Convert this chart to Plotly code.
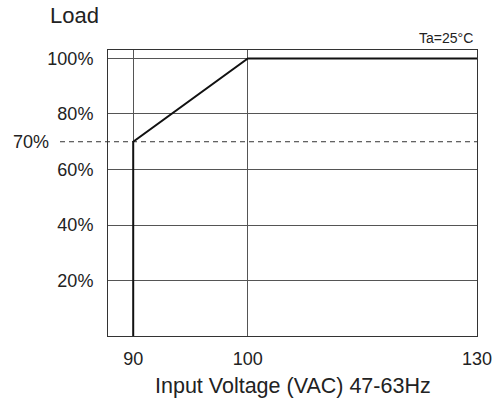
import plotly.graph_objects as go

# Data
voltage = [90, 90, 100, 130]          # VAC
load_pct = [0, 70, 100, 100]          # %
x_ticks = [90, 100, 130]
y_ticks = [20, 40, 60, 80, 100]
y_tick_labels = ["20%", "40%", "60%", "80%", "100%"]
derate_level = 70

def disp(v):
    # compressed scale above 100 VAC, as in the original drawing
    return v if v <= 100 else 100 + (v - 100) * 20 / 30

FONT = "Liberation Sans, Arial, sans-serif"
W, H = 495, 408
ML, MR, MT, MB = 108, 18, 50, 72
PW, PH = W - ML - MR, H - MT - MB

fig = go.Figure()
fig.add_trace(go.Scatter(
    x=[disp(v) for v in voltage], y=load_pct, mode="lines",
    line=dict(color="#111111", width=2), cliponaxis=False, hoverinfo="skip",
    showlegend=False))

# dashed 70% line extending to the left label
fig.add_shape(type="line", xref="paper", yref="y",
              x0=(60 - ML) / PW, x1=1, y0=derate_level, y1=derate_level,
              line=dict(color="#333333", width=1, dash="5px,4px"), layer="below")

def px_to_paper_y(py):
    return (H - MB - py) / PH

def px_to_paper_x(px):
    return (px - ML) / PW

fig.add_annotation(text="70%", xref="paper", yref="y", x=px_to_paper_x(51),
                   y=derate_level, xanchor="right", yanchor="middle",
                   showarrow=False, font=dict(family=FONT, size=18, color="#222"))
fig.add_annotation(text="Load", xref="paper", yref="paper", x=px_to_paper_x(74),
                   y=px_to_paper_y(16), xanchor="center", yanchor="middle",
                   showarrow=False, font=dict(family=FONT, size=22, color="#222"))
fig.add_annotation(text="Ta=25°C", xref="paper", yref="paper", x=px_to_paper_x(475),
                   y=px_to_paper_y(38), xanchor="right", yanchor="middle",
                   showarrow=False, font=dict(family=FONT, size=14, color="#222"))
fig.add_annotation(text="Input Voltage (VAC) 47-63Hz", xref="paper", yref="paper",
                   x=px_to_paper_x(293), y=px_to_paper_y(386), xanchor="center",
                   yanchor="middle", showarrow=False,
                   font=dict(family=FONT, size=21.5, color="#222"))

fig.update_layout(
    width=W, height=H, margin=dict(l=ML, r=MR, t=MT, b=MB, autoexpand=False),
    paper_bgcolor="white", plot_bgcolor="white",
    font=dict(family=FONT, size=18, color="#222"),
    showlegend=False,
)
fig.update_xaxes(
    range=[87.8, 120], tickvals=[disp(v) for v in x_ticks],
    ticktext=[str(v) for v in x_ticks], showgrid=True, gridcolor="#555555",
    gridwidth=1, zeroline=False, showline=True, linecolor="#333333",
    linewidth=1, mirror=True, ticks="", ticklabelstandoff=6, automargin=False,
    tickfont=dict(family=FONT, size=18, color="#222"))
fig.update_yaxes(
    range=[0, 103.06], tickvals=y_ticks, ticktext=y_tick_labels,
    showgrid=True, gridcolor="#555555", gridwidth=1, zeroline=False,
    showline=True, linecolor="#333333", linewidth=1, mirror=True, ticks="",
    ticklabelstandoff=10, automargin=False,
    tickfont=dict(family=FONT, size=18, color="#222"))

fig.write_html(
    "out.html",
    config={"displayModeBar": False, "staticPlot": True},
    post_script=("document.body.style.margin='0';"
                 "document.body.style.overflow='hidden';"
                 "document.documentElement.style.overflow='hidden';"))
